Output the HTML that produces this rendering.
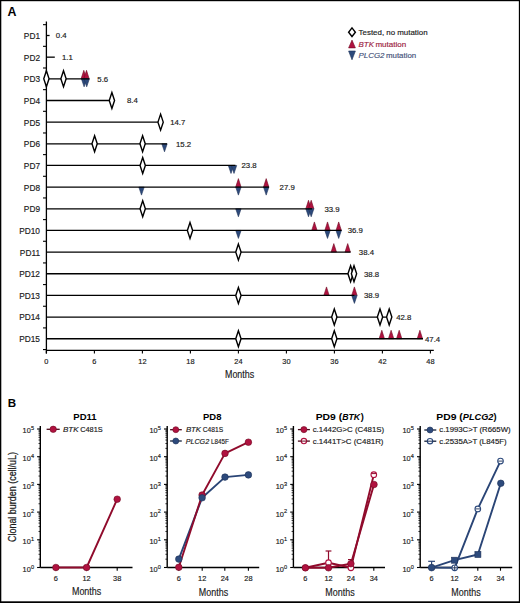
<!DOCTYPE html>
<html><head><meta charset="utf-8"><style>
html,body{margin:0;padding:0;background:#fff;}
body{width:520px;height:603px;overflow:hidden;}
svg{display:block;}
text{font-family:"Liberation Sans",sans-serif;}
</style></head><body>
<svg width="520" height="603" viewBox="0 0 520 603">
<rect width="520" height="603" fill="#fff"/>
<rect x="0" y="0" width="520" height="1.2" fill="#000"/>
<rect x="0" y="0" width="1.3" height="603" fill="#000"/>
<rect x="518.85" y="0" width="1.15" height="603" fill="#000"/>
<rect x="0" y="601.3" width="520" height="1.7" fill="#000"/>
<text x="7.50" y="15.70" font-size="12.4" text-anchor="start" fill="#000" font-weight="bold" >A</text>
<line x1="46.40" y1="21.50" x2="46.40" y2="353.50" stroke="#000" stroke-width="1.3"/>
<line x1="43.00" y1="24.67" x2="46.40" y2="24.67" stroke="#000" stroke-width="1.1"/>
<line x1="43.00" y1="46.33" x2="46.40" y2="46.33" stroke="#000" stroke-width="1.1"/>
<line x1="43.00" y1="67.99" x2="46.40" y2="67.99" stroke="#000" stroke-width="1.1"/>
<line x1="43.00" y1="89.65" x2="46.40" y2="89.65" stroke="#000" stroke-width="1.1"/>
<line x1="43.00" y1="111.31" x2="46.40" y2="111.31" stroke="#000" stroke-width="1.1"/>
<line x1="43.00" y1="132.97" x2="46.40" y2="132.97" stroke="#000" stroke-width="1.1"/>
<line x1="43.00" y1="154.63" x2="46.40" y2="154.63" stroke="#000" stroke-width="1.1"/>
<line x1="43.00" y1="176.29" x2="46.40" y2="176.29" stroke="#000" stroke-width="1.1"/>
<line x1="43.00" y1="197.95" x2="46.40" y2="197.95" stroke="#000" stroke-width="1.1"/>
<line x1="43.00" y1="219.61" x2="46.40" y2="219.61" stroke="#000" stroke-width="1.1"/>
<line x1="43.00" y1="241.27" x2="46.40" y2="241.27" stroke="#000" stroke-width="1.1"/>
<line x1="43.00" y1="262.93" x2="46.40" y2="262.93" stroke="#000" stroke-width="1.1"/>
<line x1="43.00" y1="284.59" x2="46.40" y2="284.59" stroke="#000" stroke-width="1.1"/>
<line x1="43.00" y1="306.25" x2="46.40" y2="306.25" stroke="#000" stroke-width="1.1"/>
<line x1="43.00" y1="327.91" x2="46.40" y2="327.91" stroke="#000" stroke-width="1.1"/>
<line x1="43.00" y1="349.57" x2="46.40" y2="349.57" stroke="#000" stroke-width="1.1"/>
<line x1="46.40" y1="350.40" x2="433.80" y2="350.40" stroke="#000" stroke-width="1.3"/>
<line x1="46.40" y1="350.40" x2="46.40" y2="353.60" stroke="#000" stroke-width="1.1"/>
<text x="46.40" y="363.90" font-size="7.4" text-anchor="middle" fill="#1a1a1a" stroke="#1a1a1a" stroke-width="0.16" >0</text>
<line x1="94.40" y1="350.40" x2="94.40" y2="353.60" stroke="#000" stroke-width="1.1"/>
<text x="94.40" y="363.90" font-size="7.4" text-anchor="middle" fill="#1a1a1a" stroke="#1a1a1a" stroke-width="0.16" >6</text>
<line x1="142.40" y1="350.40" x2="142.40" y2="353.60" stroke="#000" stroke-width="1.1"/>
<text x="142.40" y="363.90" font-size="7.4" text-anchor="middle" fill="#1a1a1a" stroke="#1a1a1a" stroke-width="0.16" >12</text>
<line x1="190.40" y1="350.40" x2="190.40" y2="353.60" stroke="#000" stroke-width="1.1"/>
<text x="190.40" y="363.90" font-size="7.4" text-anchor="middle" fill="#1a1a1a" stroke="#1a1a1a" stroke-width="0.16" >18</text>
<line x1="238.40" y1="350.40" x2="238.40" y2="353.60" stroke="#000" stroke-width="1.1"/>
<text x="238.40" y="363.90" font-size="7.4" text-anchor="middle" fill="#1a1a1a" stroke="#1a1a1a" stroke-width="0.16" >24</text>
<line x1="286.40" y1="350.40" x2="286.40" y2="353.60" stroke="#000" stroke-width="1.1"/>
<text x="286.40" y="363.90" font-size="7.4" text-anchor="middle" fill="#1a1a1a" stroke="#1a1a1a" stroke-width="0.16" >30</text>
<line x1="334.40" y1="350.40" x2="334.40" y2="353.60" stroke="#000" stroke-width="1.1"/>
<text x="334.40" y="363.90" font-size="7.4" text-anchor="middle" fill="#1a1a1a" stroke="#1a1a1a" stroke-width="0.16" >36</text>
<line x1="382.40" y1="350.40" x2="382.40" y2="353.60" stroke="#000" stroke-width="1.1"/>
<text x="382.40" y="363.90" font-size="7.4" text-anchor="middle" fill="#1a1a1a" stroke="#1a1a1a" stroke-width="0.16" >42</text>
<line x1="430.40" y1="350.40" x2="430.40" y2="353.60" stroke="#000" stroke-width="1.1"/>
<text x="430.40" y="363.90" font-size="7.4" text-anchor="middle" fill="#1a1a1a" stroke="#1a1a1a" stroke-width="0.16" >48</text>
<text x="239.60" y="377.90" font-size="10.6" text-anchor="middle" fill="#1a1a1a" textLength="29.20" lengthAdjust="spacingAndGlyphs" stroke="#1a1a1a" stroke-width="0.16" >Months</text>
<text x="40.00" y="38.90" font-size="8.3" text-anchor="end" fill="#1a1a1a" stroke="#1a1a1a" stroke-width="0.16" >PD1</text>
<text x="55.80" y="38.30" font-size="7.8" text-anchor="start" fill="#1a1a1a" stroke="#1a1a1a" stroke-width="0.16" >0.4</text>
<text x="40.00" y="60.56" font-size="8.3" text-anchor="end" fill="#1a1a1a" stroke="#1a1a1a" stroke-width="0.16" >PD2</text>
<text x="62.00" y="59.96" font-size="7.8" text-anchor="start" fill="#1a1a1a" stroke="#1a1a1a" stroke-width="0.16" >1.1</text>
<text x="40.00" y="82.22" font-size="8.3" text-anchor="end" fill="#1a1a1a" stroke="#1a1a1a" stroke-width="0.16" >PD3</text>
<text x="97.30" y="81.62" font-size="7.8" text-anchor="start" fill="#1a1a1a" stroke="#1a1a1a" stroke-width="0.16" >5.6</text>
<text x="40.00" y="103.88" font-size="8.3" text-anchor="end" fill="#1a1a1a" stroke="#1a1a1a" stroke-width="0.16" >PD4</text>
<text x="126.90" y="103.28" font-size="7.8" text-anchor="start" fill="#1a1a1a" stroke="#1a1a1a" stroke-width="0.16" >8.4</text>
<text x="40.00" y="125.54" font-size="8.3" text-anchor="end" fill="#1a1a1a" stroke="#1a1a1a" stroke-width="0.16" >PD5</text>
<text x="170.20" y="124.94" font-size="7.8" text-anchor="start" fill="#1a1a1a" stroke="#1a1a1a" stroke-width="0.16" >14.7</text>
<text x="40.00" y="147.20" font-size="8.3" text-anchor="end" fill="#1a1a1a" stroke="#1a1a1a" stroke-width="0.16" >PD6</text>
<text x="176.00" y="146.60" font-size="7.8" text-anchor="start" fill="#1a1a1a" stroke="#1a1a1a" stroke-width="0.16" >15.2</text>
<text x="40.00" y="168.86" font-size="8.3" text-anchor="end" fill="#1a1a1a" stroke="#1a1a1a" stroke-width="0.16" >PD7</text>
<text x="241.50" y="168.26" font-size="7.8" text-anchor="start" fill="#1a1a1a" stroke="#1a1a1a" stroke-width="0.16" >23.8</text>
<text x="40.00" y="190.52" font-size="8.3" text-anchor="end" fill="#1a1a1a" stroke="#1a1a1a" stroke-width="0.16" >PD8</text>
<text x="279.60" y="189.92" font-size="7.8" text-anchor="start" fill="#1a1a1a" stroke="#1a1a1a" stroke-width="0.16" >27.9</text>
<text x="40.00" y="212.18" font-size="8.3" text-anchor="end" fill="#1a1a1a" stroke="#1a1a1a" stroke-width="0.16" >PD9</text>
<text x="324.40" y="211.58" font-size="7.8" text-anchor="start" fill="#1a1a1a" stroke="#1a1a1a" stroke-width="0.16" >33.9</text>
<text x="40.00" y="233.84" font-size="8.3" text-anchor="end" fill="#1a1a1a" stroke="#1a1a1a" stroke-width="0.16" >PD10</text>
<text x="347.70" y="233.24" font-size="7.8" text-anchor="start" fill="#1a1a1a" stroke="#1a1a1a" stroke-width="0.16" >36.9</text>
<text x="40.00" y="255.50" font-size="8.3" text-anchor="end" fill="#1a1a1a" stroke="#1a1a1a" stroke-width="0.16" >PD11</text>
<text x="358.80" y="254.90" font-size="7.8" text-anchor="start" fill="#1a1a1a" stroke="#1a1a1a" stroke-width="0.16" >38.4</text>
<text x="40.00" y="277.16" font-size="8.3" text-anchor="end" fill="#1a1a1a" stroke="#1a1a1a" stroke-width="0.16" >PD12</text>
<text x="364.00" y="276.56" font-size="7.8" text-anchor="start" fill="#1a1a1a" stroke="#1a1a1a" stroke-width="0.16" >38.8</text>
<text x="40.00" y="298.82" font-size="8.3" text-anchor="end" fill="#1a1a1a" stroke="#1a1a1a" stroke-width="0.16" >PD13</text>
<text x="364.00" y="298.22" font-size="7.8" text-anchor="start" fill="#1a1a1a" stroke="#1a1a1a" stroke-width="0.16" >38.9</text>
<text x="40.00" y="320.48" font-size="8.3" text-anchor="end" fill="#1a1a1a" stroke="#1a1a1a" stroke-width="0.16" >PD14</text>
<text x="396.20" y="319.88" font-size="7.8" text-anchor="start" fill="#1a1a1a" stroke="#1a1a1a" stroke-width="0.16" >42.8</text>
<text x="40.00" y="342.14" font-size="8.3" text-anchor="end" fill="#1a1a1a" stroke="#1a1a1a" stroke-width="0.16" >PD15</text>
<text x="425.00" y="341.54" font-size="7.8" text-anchor="start" fill="#1a1a1a" stroke="#1a1a1a" stroke-width="0.16" >47.4</text>
<line x1="46.40" y1="35.50" x2="49.60" y2="35.50" stroke="#000" stroke-width="1.3"/>
<line x1="46.40" y1="57.16" x2="54.80" y2="57.16" stroke="#000" stroke-width="1.3"/>
<path d="M81.10 78.82L83.80 70.32L86.50 78.82Z" fill="#b01240" stroke="#6e0a22" stroke-width="0.6"/>
<path d="M83.80 78.82L86.50 70.32L89.20 78.82Z" fill="#b01240" stroke="#6e0a22" stroke-width="0.6"/>
<path d="M81.40 78.82L84.10 86.82L86.80 78.82Z" fill="#2d4a7c" stroke="#1d3158" stroke-width="0.6"/>
<path d="M84.00 78.82L86.70 86.82L89.40 78.82Z" fill="#2d4a7c" stroke="#1d3158" stroke-width="0.6"/>
<line x1="46.40" y1="78.82" x2="89.30" y2="78.82" stroke="#000" stroke-width="1.3"/>
<path d="M46.40 70.82L49.05 78.82L46.40 86.82L43.75 78.82Z" fill="#fff" stroke="#000" stroke-width="1.4" stroke-linejoin="miter" stroke-miterlimit="10"/>
<path d="M63.50 70.82L66.15 78.82L63.50 86.82L60.85 78.82Z" fill="#fff" stroke="#000" stroke-width="1.4" stroke-linejoin="miter" stroke-miterlimit="10"/>
<line x1="46.40" y1="100.48" x2="111.90" y2="100.48" stroke="#000" stroke-width="1.3"/>
<path d="M111.90 92.48L114.55 100.48L111.90 108.48L109.25 100.48Z" fill="#fff" stroke="#000" stroke-width="1.4" stroke-linejoin="miter" stroke-miterlimit="10"/>
<line x1="46.40" y1="122.14" x2="160.60" y2="122.14" stroke="#000" stroke-width="1.3"/>
<path d="M160.60 114.14L163.25 122.14L160.60 130.14L157.95 122.14Z" fill="#fff" stroke="#000" stroke-width="1.4" stroke-linejoin="miter" stroke-miterlimit="10"/>
<path d="M161.80 143.80L164.50 151.80L167.20 143.80Z" fill="#2d4a7c" stroke="#1d3158" stroke-width="0.6"/>
<line x1="46.40" y1="143.80" x2="167.00" y2="143.80" stroke="#000" stroke-width="1.3"/>
<path d="M94.60 135.80L97.25 143.80L94.60 151.80L91.95 143.80Z" fill="#fff" stroke="#000" stroke-width="1.4" stroke-linejoin="miter" stroke-miterlimit="10"/>
<path d="M142.60 135.80L145.25 143.80L142.60 151.80L139.95 143.80Z" fill="#fff" stroke="#000" stroke-width="1.4" stroke-linejoin="miter" stroke-miterlimit="10"/>
<path d="M228.30 165.46L231.00 173.46L233.70 165.46Z" fill="#2d4a7c" stroke="#1d3158" stroke-width="0.6"/>
<path d="M231.30 165.46L234.00 173.46L236.70 165.46Z" fill="#2d4a7c" stroke="#1d3158" stroke-width="0.6"/>
<line x1="46.40" y1="165.46" x2="235.40" y2="165.46" stroke="#000" stroke-width="1.3"/>
<path d="M142.70 157.46L145.35 165.46L142.70 173.46L140.05 165.46Z" fill="#fff" stroke="#000" stroke-width="1.4" stroke-linejoin="miter" stroke-miterlimit="10"/>
<path d="M235.70 187.12L238.40 178.62L241.10 187.12Z" fill="#b01240" stroke="#6e0a22" stroke-width="0.6"/>
<path d="M263.50 187.12L266.20 178.62L268.90 187.12Z" fill="#b01240" stroke="#6e0a22" stroke-width="0.6"/>
<path d="M138.80 187.12L141.50 195.12L144.20 187.12Z" fill="#2d4a7c" stroke="#1d3158" stroke-width="0.6"/>
<path d="M235.70 187.12L238.40 195.12L241.10 187.12Z" fill="#2d4a7c" stroke="#1d3158" stroke-width="0.6"/>
<path d="M263.50 187.12L266.20 195.12L268.90 187.12Z" fill="#2d4a7c" stroke="#1d3158" stroke-width="0.6"/>
<line x1="46.40" y1="187.12" x2="269.00" y2="187.12" stroke="#000" stroke-width="1.3"/>
<path d="M305.80 208.78L308.50 200.28L311.20 208.78Z" fill="#b01240" stroke="#6e0a22" stroke-width="0.6"/>
<path d="M308.50 208.78L311.20 200.28L313.90 208.78Z" fill="#b01240" stroke="#6e0a22" stroke-width="0.6"/>
<path d="M235.70 208.78L238.40 216.78L241.10 208.78Z" fill="#2d4a7c" stroke="#1d3158" stroke-width="0.6"/>
<path d="M305.80 208.78L308.50 216.78L311.20 208.78Z" fill="#2d4a7c" stroke="#1d3158" stroke-width="0.6"/>
<path d="M308.50 208.78L311.20 216.78L313.90 208.78Z" fill="#2d4a7c" stroke="#1d3158" stroke-width="0.6"/>
<line x1="46.40" y1="208.78" x2="312.00" y2="208.78" stroke="#000" stroke-width="1.3"/>
<path d="M142.70 200.78L145.35 208.78L142.70 216.78L140.05 208.78Z" fill="#fff" stroke="#000" stroke-width="1.4" stroke-linejoin="miter" stroke-miterlimit="10"/>
<path d="M311.70 230.44L314.40 221.94L317.10 230.44Z" fill="#b01240" stroke="#6e0a22" stroke-width="0.6"/>
<path d="M324.80 230.44L327.50 221.94L330.20 230.44Z" fill="#b01240" stroke="#6e0a22" stroke-width="0.6"/>
<path d="M336.00 230.44L338.70 221.94L341.40 230.44Z" fill="#b01240" stroke="#6e0a22" stroke-width="0.6"/>
<path d="M235.70 230.44L238.40 238.44L241.10 230.44Z" fill="#2d4a7c" stroke="#1d3158" stroke-width="0.6"/>
<path d="M324.80 230.44L327.50 238.44L330.20 230.44Z" fill="#2d4a7c" stroke="#1d3158" stroke-width="0.6"/>
<path d="M336.00 230.44L338.70 238.44L341.40 230.44Z" fill="#2d4a7c" stroke="#1d3158" stroke-width="0.6"/>
<line x1="46.40" y1="230.44" x2="341.50" y2="230.44" stroke="#000" stroke-width="1.3"/>
<path d="M190.00 222.44L192.65 230.44L190.00 238.44L187.35 230.44Z" fill="#fff" stroke="#000" stroke-width="1.4" stroke-linejoin="miter" stroke-miterlimit="10"/>
<path d="M331.10 252.10L333.80 243.60L336.50 252.10Z" fill="#b01240" stroke="#6e0a22" stroke-width="0.6"/>
<path d="M345.00 252.10L347.70 243.60L350.40 252.10Z" fill="#b01240" stroke="#6e0a22" stroke-width="0.6"/>
<line x1="46.40" y1="252.10" x2="350.60" y2="252.10" stroke="#000" stroke-width="1.3"/>
<path d="M238.40 244.10L241.05 252.10L238.40 260.10L235.75 252.10Z" fill="#fff" stroke="#000" stroke-width="1.4" stroke-linejoin="miter" stroke-miterlimit="10"/>
<line x1="46.40" y1="273.76" x2="354.00" y2="273.76" stroke="#000" stroke-width="1.3"/>
<path d="M350.60 265.76L353.25 273.76L350.60 281.76L347.95 273.76Z" fill="#fff" stroke="#000" stroke-width="1.4" stroke-linejoin="miter" stroke-miterlimit="10"/>
<path d="M354.00 265.76L356.65 273.76L354.00 281.76L351.35 273.76Z" fill="#fff" stroke="#000" stroke-width="1.4" stroke-linejoin="miter" stroke-miterlimit="10"/>
<path d="M323.80 295.42L326.50 286.92L329.20 295.42Z" fill="#b01240" stroke="#6e0a22" stroke-width="0.6"/>
<path d="M351.70 295.42L354.40 286.92L357.10 295.42Z" fill="#b01240" stroke="#6e0a22" stroke-width="0.6"/>
<path d="M351.70 295.42L354.40 303.42L357.10 295.42Z" fill="#2d4a7c" stroke="#1d3158" stroke-width="0.6"/>
<line x1="46.40" y1="295.42" x2="354.40" y2="295.42" stroke="#000" stroke-width="1.3"/>
<path d="M238.40 287.42L241.05 295.42L238.40 303.42L235.75 295.42Z" fill="#fff" stroke="#000" stroke-width="1.4" stroke-linejoin="miter" stroke-miterlimit="10"/>
<line x1="46.40" y1="317.08" x2="389.20" y2="317.08" stroke="#000" stroke-width="1.3"/>
<path d="M334.30 309.08L336.95 317.08L334.30 325.08L331.65 317.08Z" fill="#fff" stroke="#000" stroke-width="1.4" stroke-linejoin="miter" stroke-miterlimit="10"/>
<path d="M380.00 309.08L382.65 317.08L380.00 325.08L377.35 317.08Z" fill="#fff" stroke="#000" stroke-width="1.4" stroke-linejoin="miter" stroke-miterlimit="10"/>
<path d="M389.20 309.08L391.85 317.08L389.20 325.08L386.55 317.08Z" fill="#fff" stroke="#000" stroke-width="1.4" stroke-linejoin="miter" stroke-miterlimit="10"/>
<path d="M379.10 338.74L381.80 330.24L384.50 338.74Z" fill="#b01240" stroke="#6e0a22" stroke-width="0.6"/>
<path d="M388.40 338.74L391.10 330.24L393.80 338.74Z" fill="#b01240" stroke="#6e0a22" stroke-width="0.6"/>
<path d="M396.50 338.74L399.20 330.24L401.90 338.74Z" fill="#b01240" stroke="#6e0a22" stroke-width="0.6"/>
<path d="M417.20 338.74L419.90 330.24L422.60 338.74Z" fill="#b01240" stroke="#6e0a22" stroke-width="0.6"/>
<line x1="46.40" y1="338.74" x2="423.00" y2="338.74" stroke="#000" stroke-width="1.3"/>
<path d="M238.40 330.74L241.05 338.74L238.40 346.74L235.75 338.74Z" fill="#fff" stroke="#000" stroke-width="1.4" stroke-linejoin="miter" stroke-miterlimit="10"/>
<path d="M334.30 330.74L336.95 338.74L334.30 346.74L331.65 338.74Z" fill="#fff" stroke="#000" stroke-width="1.4" stroke-linejoin="miter" stroke-miterlimit="10"/>
<path d="M352.0 27.9L355.4 32.2L352.0 36.5L348.6 32.2Z" fill="#fff" stroke="#000" stroke-width="1.4"/>
<text x="358.60" y="35.20" font-size="8.0" text-anchor="start" fill="#1a1a1a" textLength="69.00" lengthAdjust="spacingAndGlyphs" stroke="#1a1a1a" stroke-width="0.16" >Tested, no mutation</text>
<path d="M348.6 47.9L352.0 40.1L355.4 47.9Z" fill="#b01240" stroke="#6e0a22" stroke-width="0.6"/>
<text x="358.60" y="46.90" font-size="8.0" text-anchor="start" fill="#9c1d3e" font-style="italic" textLength="15.30" lengthAdjust="spacingAndGlyphs" stroke="#9c1d3e" stroke-width="0.16" >BTK</text>
<text x="375.40" y="46.90" font-size="8.0" text-anchor="start" fill="#9c1d3e" textLength="30.80" lengthAdjust="spacingAndGlyphs" stroke="#9c1d3e" stroke-width="0.16" >mutation</text>
<path d="M348.6 51.0L352.0 59.8L355.4 51.0Z" fill="#2d4a7c" stroke="#1d3158" stroke-width="0.6"/>
<text x="358.60" y="57.90" font-size="8.0" text-anchor="start" fill="#44527a" font-style="italic" textLength="25.90" lengthAdjust="spacingAndGlyphs" stroke="#44527a" stroke-width="0.16" >PLCG2</text>
<text x="386.00" y="57.90" font-size="8.0" text-anchor="start" fill="#44527a" textLength="30.20" lengthAdjust="spacingAndGlyphs" stroke="#44527a" stroke-width="0.16" >mutation</text>
<text x="7.80" y="406.80" font-size="11.6" text-anchor="start" fill="#000" font-weight="bold" >B</text>
<line x1="40.30" y1="426.00" x2="40.30" y2="567.50" stroke="#000" stroke-width="1.4"/>
<line x1="37.10" y1="567.50" x2="40.30" y2="567.50" stroke="#000" stroke-width="1.1"/>
<text x="30.80" y="571.90" font-size="7.9" text-anchor="end" fill="#1a1a1a" textLength="8.20" lengthAdjust="spacingAndGlyphs" stroke="#1a1a1a" stroke-width="0.16" >10</text>
<text x="30.90" y="568.80" font-size="5.6" text-anchor="start" fill="#1a1a1a" stroke="#1a1a1a" stroke-width="0.16" >0</text>
<line x1="38.50" y1="559.16" x2="40.30" y2="559.16" stroke="#000" stroke-width="0.8"/>
<line x1="38.50" y1="554.28" x2="40.30" y2="554.28" stroke="#000" stroke-width="0.8"/>
<line x1="38.50" y1="550.82" x2="40.30" y2="550.82" stroke="#000" stroke-width="0.8"/>
<line x1="38.50" y1="548.14" x2="40.30" y2="548.14" stroke="#000" stroke-width="0.8"/>
<line x1="38.50" y1="545.95" x2="40.30" y2="545.95" stroke="#000" stroke-width="0.8"/>
<line x1="38.50" y1="544.09" x2="40.30" y2="544.09" stroke="#000" stroke-width="0.8"/>
<line x1="38.50" y1="542.48" x2="40.30" y2="542.48" stroke="#000" stroke-width="0.8"/>
<line x1="38.50" y1="541.07" x2="40.30" y2="541.07" stroke="#000" stroke-width="0.8"/>
<line x1="37.10" y1="539.80" x2="40.30" y2="539.80" stroke="#000" stroke-width="1.1"/>
<text x="30.80" y="544.20" font-size="7.9" text-anchor="end" fill="#1a1a1a" textLength="8.20" lengthAdjust="spacingAndGlyphs" stroke="#1a1a1a" stroke-width="0.16" >10</text>
<text x="30.90" y="541.10" font-size="5.6" text-anchor="start" fill="#1a1a1a" stroke="#1a1a1a" stroke-width="0.16" >1</text>
<line x1="38.50" y1="531.46" x2="40.30" y2="531.46" stroke="#000" stroke-width="0.8"/>
<line x1="38.50" y1="526.58" x2="40.30" y2="526.58" stroke="#000" stroke-width="0.8"/>
<line x1="38.50" y1="523.12" x2="40.30" y2="523.12" stroke="#000" stroke-width="0.8"/>
<line x1="38.50" y1="520.44" x2="40.30" y2="520.44" stroke="#000" stroke-width="0.8"/>
<line x1="38.50" y1="518.25" x2="40.30" y2="518.25" stroke="#000" stroke-width="0.8"/>
<line x1="38.50" y1="516.39" x2="40.30" y2="516.39" stroke="#000" stroke-width="0.8"/>
<line x1="38.50" y1="514.78" x2="40.30" y2="514.78" stroke="#000" stroke-width="0.8"/>
<line x1="38.50" y1="513.37" x2="40.30" y2="513.37" stroke="#000" stroke-width="0.8"/>
<line x1="37.10" y1="512.10" x2="40.30" y2="512.10" stroke="#000" stroke-width="1.1"/>
<text x="30.80" y="516.50" font-size="7.9" text-anchor="end" fill="#1a1a1a" textLength="8.20" lengthAdjust="spacingAndGlyphs" stroke="#1a1a1a" stroke-width="0.16" >10</text>
<text x="30.90" y="513.40" font-size="5.6" text-anchor="start" fill="#1a1a1a" stroke="#1a1a1a" stroke-width="0.16" >2</text>
<line x1="38.50" y1="503.76" x2="40.30" y2="503.76" stroke="#000" stroke-width="0.8"/>
<line x1="38.50" y1="498.88" x2="40.30" y2="498.88" stroke="#000" stroke-width="0.8"/>
<line x1="38.50" y1="495.42" x2="40.30" y2="495.42" stroke="#000" stroke-width="0.8"/>
<line x1="38.50" y1="492.74" x2="40.30" y2="492.74" stroke="#000" stroke-width="0.8"/>
<line x1="38.50" y1="490.55" x2="40.30" y2="490.55" stroke="#000" stroke-width="0.8"/>
<line x1="38.50" y1="488.69" x2="40.30" y2="488.69" stroke="#000" stroke-width="0.8"/>
<line x1="38.50" y1="487.08" x2="40.30" y2="487.08" stroke="#000" stroke-width="0.8"/>
<line x1="38.50" y1="485.67" x2="40.30" y2="485.67" stroke="#000" stroke-width="0.8"/>
<line x1="37.10" y1="484.40" x2="40.30" y2="484.40" stroke="#000" stroke-width="1.1"/>
<text x="30.80" y="488.80" font-size="7.9" text-anchor="end" fill="#1a1a1a" textLength="8.20" lengthAdjust="spacingAndGlyphs" stroke="#1a1a1a" stroke-width="0.16" >10</text>
<text x="30.90" y="485.70" font-size="5.6" text-anchor="start" fill="#1a1a1a" stroke="#1a1a1a" stroke-width="0.16" >3</text>
<line x1="38.50" y1="476.06" x2="40.30" y2="476.06" stroke="#000" stroke-width="0.8"/>
<line x1="38.50" y1="471.18" x2="40.30" y2="471.18" stroke="#000" stroke-width="0.8"/>
<line x1="38.50" y1="467.72" x2="40.30" y2="467.72" stroke="#000" stroke-width="0.8"/>
<line x1="38.50" y1="465.04" x2="40.30" y2="465.04" stroke="#000" stroke-width="0.8"/>
<line x1="38.50" y1="462.85" x2="40.30" y2="462.85" stroke="#000" stroke-width="0.8"/>
<line x1="38.50" y1="460.99" x2="40.30" y2="460.99" stroke="#000" stroke-width="0.8"/>
<line x1="38.50" y1="459.38" x2="40.30" y2="459.38" stroke="#000" stroke-width="0.8"/>
<line x1="38.50" y1="457.97" x2="40.30" y2="457.97" stroke="#000" stroke-width="0.8"/>
<line x1="37.10" y1="456.70" x2="40.30" y2="456.70" stroke="#000" stroke-width="1.1"/>
<text x="30.80" y="461.10" font-size="7.9" text-anchor="end" fill="#1a1a1a" textLength="8.20" lengthAdjust="spacingAndGlyphs" stroke="#1a1a1a" stroke-width="0.16" >10</text>
<text x="30.90" y="458.00" font-size="5.6" text-anchor="start" fill="#1a1a1a" stroke="#1a1a1a" stroke-width="0.16" >4</text>
<line x1="38.50" y1="448.36" x2="40.30" y2="448.36" stroke="#000" stroke-width="0.8"/>
<line x1="38.50" y1="443.48" x2="40.30" y2="443.48" stroke="#000" stroke-width="0.8"/>
<line x1="38.50" y1="440.02" x2="40.30" y2="440.02" stroke="#000" stroke-width="0.8"/>
<line x1="38.50" y1="437.34" x2="40.30" y2="437.34" stroke="#000" stroke-width="0.8"/>
<line x1="38.50" y1="435.15" x2="40.30" y2="435.15" stroke="#000" stroke-width="0.8"/>
<line x1="38.50" y1="433.29" x2="40.30" y2="433.29" stroke="#000" stroke-width="0.8"/>
<line x1="38.50" y1="431.68" x2="40.30" y2="431.68" stroke="#000" stroke-width="0.8"/>
<line x1="38.50" y1="430.27" x2="40.30" y2="430.27" stroke="#000" stroke-width="0.8"/>
<line x1="37.10" y1="429.00" x2="40.30" y2="429.00" stroke="#000" stroke-width="1.1"/>
<text x="30.80" y="433.40" font-size="7.9" text-anchor="end" fill="#1a1a1a" textLength="8.20" lengthAdjust="spacingAndGlyphs" stroke="#1a1a1a" stroke-width="0.16" >10</text>
<text x="30.90" y="430.30" font-size="5.6" text-anchor="start" fill="#1a1a1a" stroke="#1a1a1a" stroke-width="0.16" >5</text>
<line x1="40.30" y1="567.50" x2="132.50" y2="567.50" stroke="#000" stroke-width="1.4"/>
<line x1="55.90" y1="567.50" x2="55.90" y2="570.70" stroke="#000" stroke-width="1.1"/>
<text x="55.90" y="580.90" font-size="7.4" text-anchor="middle" fill="#1a1a1a" stroke="#1a1a1a" stroke-width="0.16" >6</text>
<line x1="86.60" y1="567.50" x2="86.60" y2="570.70" stroke="#000" stroke-width="1.1"/>
<text x="86.60" y="580.90" font-size="7.4" text-anchor="middle" fill="#1a1a1a" stroke="#1a1a1a" stroke-width="0.16" >12</text>
<line x1="117.20" y1="567.50" x2="117.20" y2="570.70" stroke="#000" stroke-width="1.1"/>
<text x="117.20" y="580.90" font-size="7.4" text-anchor="middle" fill="#1a1a1a" stroke="#1a1a1a" stroke-width="0.16" >38</text>
<text x="86.60" y="595.40" font-size="10.4" text-anchor="middle" fill="#1a1a1a" textLength="29.30" lengthAdjust="spacingAndGlyphs" stroke="#1a1a1a" stroke-width="0.16" >Months</text>
<text x="85.00" y="419.50" font-size="9.2" text-anchor="middle" fill="#000" font-weight="bold" textLength="23.30" lengthAdjust="spacingAndGlyphs" >PD11</text>
<line x1="46.60" y1="429.30" x2="59.70" y2="429.30" stroke="#4a0a1a" stroke-width="1.3"/>
<circle cx="53.20" cy="429.30" r="3.20" fill="#b01240" stroke="#6e0a22" stroke-width="0.6"/>
<text x="62.90" y="431.90" font-size="7.5" text-anchor="start" fill="#1a1a1a" font-style="italic" textLength="15.60" lengthAdjust="spacingAndGlyphs" stroke="#1a1a1a" stroke-width="0.16" >BTK</text>
<text x="80.20" y="431.90" font-size="7.5" text-anchor="start" fill="#1a1a1a" textLength="22.50" lengthAdjust="spacingAndGlyphs" stroke="#1a1a1a" stroke-width="0.16" >C481S</text>
<path d="M55.90 567.50L86.60 567.50L117.20 499.20" fill="none" stroke="#900b2c" stroke-width="1.9" stroke-linejoin="round"/>
<circle cx="55.90" cy="567.50" r="3.30" fill="#b01240" stroke="#6e0a22" stroke-width="0.6"/>
<circle cx="86.60" cy="567.50" r="3.30" fill="#b01240" stroke="#6e0a22" stroke-width="0.6"/>
<circle cx="117.20" cy="499.20" r="3.30" fill="#b01240" stroke="#6e0a22" stroke-width="0.6"/>
<text transform="translate(15.6,542) rotate(-90)" font-size="10.8" fill="#1a1a1a" stroke="#1a1a1a" stroke-width="0.25" textLength="90" lengthAdjust="spacingAndGlyphs">Clonal burden (cell/uL)</text>
<line x1="167.20" y1="426.00" x2="167.20" y2="567.50" stroke="#000" stroke-width="1.4"/>
<line x1="164.00" y1="567.50" x2="167.20" y2="567.50" stroke="#000" stroke-width="1.1"/>
<text x="157.70" y="571.90" font-size="7.9" text-anchor="end" fill="#1a1a1a" textLength="8.20" lengthAdjust="spacingAndGlyphs" stroke="#1a1a1a" stroke-width="0.16" >10</text>
<text x="157.80" y="568.80" font-size="5.6" text-anchor="start" fill="#1a1a1a" stroke="#1a1a1a" stroke-width="0.16" >0</text>
<line x1="165.40" y1="559.16" x2="167.20" y2="559.16" stroke="#000" stroke-width="0.8"/>
<line x1="165.40" y1="554.28" x2="167.20" y2="554.28" stroke="#000" stroke-width="0.8"/>
<line x1="165.40" y1="550.82" x2="167.20" y2="550.82" stroke="#000" stroke-width="0.8"/>
<line x1="165.40" y1="548.14" x2="167.20" y2="548.14" stroke="#000" stroke-width="0.8"/>
<line x1="165.40" y1="545.95" x2="167.20" y2="545.95" stroke="#000" stroke-width="0.8"/>
<line x1="165.40" y1="544.09" x2="167.20" y2="544.09" stroke="#000" stroke-width="0.8"/>
<line x1="165.40" y1="542.48" x2="167.20" y2="542.48" stroke="#000" stroke-width="0.8"/>
<line x1="165.40" y1="541.07" x2="167.20" y2="541.07" stroke="#000" stroke-width="0.8"/>
<line x1="164.00" y1="539.80" x2="167.20" y2="539.80" stroke="#000" stroke-width="1.1"/>
<text x="157.70" y="544.20" font-size="7.9" text-anchor="end" fill="#1a1a1a" textLength="8.20" lengthAdjust="spacingAndGlyphs" stroke="#1a1a1a" stroke-width="0.16" >10</text>
<text x="157.80" y="541.10" font-size="5.6" text-anchor="start" fill="#1a1a1a" stroke="#1a1a1a" stroke-width="0.16" >1</text>
<line x1="165.40" y1="531.46" x2="167.20" y2="531.46" stroke="#000" stroke-width="0.8"/>
<line x1="165.40" y1="526.58" x2="167.20" y2="526.58" stroke="#000" stroke-width="0.8"/>
<line x1="165.40" y1="523.12" x2="167.20" y2="523.12" stroke="#000" stroke-width="0.8"/>
<line x1="165.40" y1="520.44" x2="167.20" y2="520.44" stroke="#000" stroke-width="0.8"/>
<line x1="165.40" y1="518.25" x2="167.20" y2="518.25" stroke="#000" stroke-width="0.8"/>
<line x1="165.40" y1="516.39" x2="167.20" y2="516.39" stroke="#000" stroke-width="0.8"/>
<line x1="165.40" y1="514.78" x2="167.20" y2="514.78" stroke="#000" stroke-width="0.8"/>
<line x1="165.40" y1="513.37" x2="167.20" y2="513.37" stroke="#000" stroke-width="0.8"/>
<line x1="164.00" y1="512.10" x2="167.20" y2="512.10" stroke="#000" stroke-width="1.1"/>
<text x="157.70" y="516.50" font-size="7.9" text-anchor="end" fill="#1a1a1a" textLength="8.20" lengthAdjust="spacingAndGlyphs" stroke="#1a1a1a" stroke-width="0.16" >10</text>
<text x="157.80" y="513.40" font-size="5.6" text-anchor="start" fill="#1a1a1a" stroke="#1a1a1a" stroke-width="0.16" >2</text>
<line x1="165.40" y1="503.76" x2="167.20" y2="503.76" stroke="#000" stroke-width="0.8"/>
<line x1="165.40" y1="498.88" x2="167.20" y2="498.88" stroke="#000" stroke-width="0.8"/>
<line x1="165.40" y1="495.42" x2="167.20" y2="495.42" stroke="#000" stroke-width="0.8"/>
<line x1="165.40" y1="492.74" x2="167.20" y2="492.74" stroke="#000" stroke-width="0.8"/>
<line x1="165.40" y1="490.55" x2="167.20" y2="490.55" stroke="#000" stroke-width="0.8"/>
<line x1="165.40" y1="488.69" x2="167.20" y2="488.69" stroke="#000" stroke-width="0.8"/>
<line x1="165.40" y1="487.08" x2="167.20" y2="487.08" stroke="#000" stroke-width="0.8"/>
<line x1="165.40" y1="485.67" x2="167.20" y2="485.67" stroke="#000" stroke-width="0.8"/>
<line x1="164.00" y1="484.40" x2="167.20" y2="484.40" stroke="#000" stroke-width="1.1"/>
<text x="157.70" y="488.80" font-size="7.9" text-anchor="end" fill="#1a1a1a" textLength="8.20" lengthAdjust="spacingAndGlyphs" stroke="#1a1a1a" stroke-width="0.16" >10</text>
<text x="157.80" y="485.70" font-size="5.6" text-anchor="start" fill="#1a1a1a" stroke="#1a1a1a" stroke-width="0.16" >3</text>
<line x1="165.40" y1="476.06" x2="167.20" y2="476.06" stroke="#000" stroke-width="0.8"/>
<line x1="165.40" y1="471.18" x2="167.20" y2="471.18" stroke="#000" stroke-width="0.8"/>
<line x1="165.40" y1="467.72" x2="167.20" y2="467.72" stroke="#000" stroke-width="0.8"/>
<line x1="165.40" y1="465.04" x2="167.20" y2="465.04" stroke="#000" stroke-width="0.8"/>
<line x1="165.40" y1="462.85" x2="167.20" y2="462.85" stroke="#000" stroke-width="0.8"/>
<line x1="165.40" y1="460.99" x2="167.20" y2="460.99" stroke="#000" stroke-width="0.8"/>
<line x1="165.40" y1="459.38" x2="167.20" y2="459.38" stroke="#000" stroke-width="0.8"/>
<line x1="165.40" y1="457.97" x2="167.20" y2="457.97" stroke="#000" stroke-width="0.8"/>
<line x1="164.00" y1="456.70" x2="167.20" y2="456.70" stroke="#000" stroke-width="1.1"/>
<text x="157.70" y="461.10" font-size="7.9" text-anchor="end" fill="#1a1a1a" textLength="8.20" lengthAdjust="spacingAndGlyphs" stroke="#1a1a1a" stroke-width="0.16" >10</text>
<text x="157.80" y="458.00" font-size="5.6" text-anchor="start" fill="#1a1a1a" stroke="#1a1a1a" stroke-width="0.16" >4</text>
<line x1="165.40" y1="448.36" x2="167.20" y2="448.36" stroke="#000" stroke-width="0.8"/>
<line x1="165.40" y1="443.48" x2="167.20" y2="443.48" stroke="#000" stroke-width="0.8"/>
<line x1="165.40" y1="440.02" x2="167.20" y2="440.02" stroke="#000" stroke-width="0.8"/>
<line x1="165.40" y1="437.34" x2="167.20" y2="437.34" stroke="#000" stroke-width="0.8"/>
<line x1="165.40" y1="435.15" x2="167.20" y2="435.15" stroke="#000" stroke-width="0.8"/>
<line x1="165.40" y1="433.29" x2="167.20" y2="433.29" stroke="#000" stroke-width="0.8"/>
<line x1="165.40" y1="431.68" x2="167.20" y2="431.68" stroke="#000" stroke-width="0.8"/>
<line x1="165.40" y1="430.27" x2="167.20" y2="430.27" stroke="#000" stroke-width="0.8"/>
<line x1="164.00" y1="429.00" x2="167.20" y2="429.00" stroke="#000" stroke-width="1.1"/>
<text x="157.70" y="433.40" font-size="7.9" text-anchor="end" fill="#1a1a1a" textLength="8.20" lengthAdjust="spacingAndGlyphs" stroke="#1a1a1a" stroke-width="0.16" >10</text>
<text x="157.80" y="430.30" font-size="5.6" text-anchor="start" fill="#1a1a1a" stroke="#1a1a1a" stroke-width="0.16" >5</text>
<line x1="167.20" y1="567.50" x2="259.20" y2="567.50" stroke="#000" stroke-width="1.4"/>
<line x1="178.80" y1="567.50" x2="178.80" y2="570.70" stroke="#000" stroke-width="1.1"/>
<text x="178.80" y="580.90" font-size="7.4" text-anchor="middle" fill="#1a1a1a" stroke="#1a1a1a" stroke-width="0.16" >6</text>
<line x1="202.20" y1="567.50" x2="202.20" y2="570.70" stroke="#000" stroke-width="1.1"/>
<text x="202.20" y="580.90" font-size="7.4" text-anchor="middle" fill="#1a1a1a" stroke="#1a1a1a" stroke-width="0.16" >12</text>
<line x1="224.80" y1="567.50" x2="224.80" y2="570.70" stroke="#000" stroke-width="1.1"/>
<text x="224.80" y="580.90" font-size="7.4" text-anchor="middle" fill="#1a1a1a" stroke="#1a1a1a" stroke-width="0.16" >24</text>
<line x1="248.40" y1="567.50" x2="248.40" y2="570.70" stroke="#000" stroke-width="1.1"/>
<text x="248.40" y="580.90" font-size="7.4" text-anchor="middle" fill="#1a1a1a" stroke="#1a1a1a" stroke-width="0.16" >28</text>
<text x="213.50" y="595.80" font-size="10.4" text-anchor="middle" fill="#1a1a1a" textLength="29.30" lengthAdjust="spacingAndGlyphs" stroke="#1a1a1a" stroke-width="0.16" >Months</text>
<text x="212.20" y="419.50" font-size="9.2" text-anchor="middle" fill="#000" font-weight="bold" textLength="18.40" lengthAdjust="spacingAndGlyphs" >PD8</text>
<line x1="170.10" y1="429.70" x2="181.80" y2="429.70" stroke="#4a0a1a" stroke-width="1.3"/>
<circle cx="175.80" cy="429.70" r="3.00" fill="#b01240" stroke="#6e0a22" stroke-width="0.6"/>
<text x="185.90" y="432.40" font-size="7.5" text-anchor="start" fill="#1a1a1a" font-style="italic" textLength="15.20" lengthAdjust="spacingAndGlyphs" stroke="#1a1a1a" stroke-width="0.16" >BTK</text>
<text x="202.70" y="432.40" font-size="7.5" text-anchor="start" fill="#1a1a1a" textLength="20.40" lengthAdjust="spacingAndGlyphs" stroke="#1a1a1a" stroke-width="0.16" >C481S</text>
<line x1="170.10" y1="441.00" x2="181.80" y2="441.00" stroke="#141f38" stroke-width="1.3"/>
<circle cx="175.80" cy="441.00" r="3.00" fill="#2d4a7c" stroke="#1d3158" stroke-width="0.6"/>
<text x="185.70" y="443.70" font-size="7.5" text-anchor="start" fill="#1a1a1a" font-style="italic" textLength="23.50" lengthAdjust="spacingAndGlyphs" stroke="#1a1a1a" stroke-width="0.16" >PLCG2</text>
<text x="211.00" y="443.70" font-size="7.5" text-anchor="start" fill="#1a1a1a" textLength="17.80" lengthAdjust="spacingAndGlyphs" stroke="#1a1a1a" stroke-width="0.16" >L845F</text>
<path d="M178.80 559.10L202.10 497.80L225.00 477.10L248.40 474.90" fill="none" stroke="#2a4576" stroke-width="1.9" stroke-linejoin="round"/>
<path d="M178.80 567.30L202.10 495.00L225.00 453.40L248.40 442.20" fill="none" stroke="#900b2c" stroke-width="1.9" stroke-linejoin="round"/>
<circle cx="178.80" cy="567.30" r="3.30" fill="#b01240" stroke="#6e0a22" stroke-width="0.6"/>
<circle cx="202.10" cy="495.00" r="3.30" fill="#b01240" stroke="#6e0a22" stroke-width="0.6"/>
<circle cx="225.00" cy="453.40" r="3.30" fill="#b01240" stroke="#6e0a22" stroke-width="0.6"/>
<circle cx="248.40" cy="442.20" r="3.30" fill="#b01240" stroke="#6e0a22" stroke-width="0.6"/>
<circle cx="178.80" cy="559.10" r="3.30" fill="#2d4a7c" stroke="#1d3158" stroke-width="0.6"/>
<circle cx="202.10" cy="497.80" r="3.30" fill="#2d4a7c" stroke="#1d3158" stroke-width="0.6"/>
<circle cx="225.00" cy="477.10" r="3.30" fill="#2d4a7c" stroke="#1d3158" stroke-width="0.6"/>
<circle cx="248.40" cy="474.90" r="3.30" fill="#2d4a7c" stroke="#1d3158" stroke-width="0.6"/>
<line x1="293.40" y1="426.00" x2="293.40" y2="567.50" stroke="#000" stroke-width="1.4"/>
<line x1="290.20" y1="567.50" x2="293.40" y2="567.50" stroke="#000" stroke-width="1.1"/>
<text x="283.90" y="571.90" font-size="7.9" text-anchor="end" fill="#1a1a1a" textLength="8.20" lengthAdjust="spacingAndGlyphs" stroke="#1a1a1a" stroke-width="0.16" >10</text>
<text x="284.00" y="568.80" font-size="5.6" text-anchor="start" fill="#1a1a1a" stroke="#1a1a1a" stroke-width="0.16" >0</text>
<line x1="291.60" y1="559.16" x2="293.40" y2="559.16" stroke="#000" stroke-width="0.8"/>
<line x1="291.60" y1="554.28" x2="293.40" y2="554.28" stroke="#000" stroke-width="0.8"/>
<line x1="291.60" y1="550.82" x2="293.40" y2="550.82" stroke="#000" stroke-width="0.8"/>
<line x1="291.60" y1="548.14" x2="293.40" y2="548.14" stroke="#000" stroke-width="0.8"/>
<line x1="291.60" y1="545.95" x2="293.40" y2="545.95" stroke="#000" stroke-width="0.8"/>
<line x1="291.60" y1="544.09" x2="293.40" y2="544.09" stroke="#000" stroke-width="0.8"/>
<line x1="291.60" y1="542.48" x2="293.40" y2="542.48" stroke="#000" stroke-width="0.8"/>
<line x1="291.60" y1="541.07" x2="293.40" y2="541.07" stroke="#000" stroke-width="0.8"/>
<line x1="290.20" y1="539.80" x2="293.40" y2="539.80" stroke="#000" stroke-width="1.1"/>
<text x="283.90" y="544.20" font-size="7.9" text-anchor="end" fill="#1a1a1a" textLength="8.20" lengthAdjust="spacingAndGlyphs" stroke="#1a1a1a" stroke-width="0.16" >10</text>
<text x="284.00" y="541.10" font-size="5.6" text-anchor="start" fill="#1a1a1a" stroke="#1a1a1a" stroke-width="0.16" >1</text>
<line x1="291.60" y1="531.46" x2="293.40" y2="531.46" stroke="#000" stroke-width="0.8"/>
<line x1="291.60" y1="526.58" x2="293.40" y2="526.58" stroke="#000" stroke-width="0.8"/>
<line x1="291.60" y1="523.12" x2="293.40" y2="523.12" stroke="#000" stroke-width="0.8"/>
<line x1="291.60" y1="520.44" x2="293.40" y2="520.44" stroke="#000" stroke-width="0.8"/>
<line x1="291.60" y1="518.25" x2="293.40" y2="518.25" stroke="#000" stroke-width="0.8"/>
<line x1="291.60" y1="516.39" x2="293.40" y2="516.39" stroke="#000" stroke-width="0.8"/>
<line x1="291.60" y1="514.78" x2="293.40" y2="514.78" stroke="#000" stroke-width="0.8"/>
<line x1="291.60" y1="513.37" x2="293.40" y2="513.37" stroke="#000" stroke-width="0.8"/>
<line x1="290.20" y1="512.10" x2="293.40" y2="512.10" stroke="#000" stroke-width="1.1"/>
<text x="283.90" y="516.50" font-size="7.9" text-anchor="end" fill="#1a1a1a" textLength="8.20" lengthAdjust="spacingAndGlyphs" stroke="#1a1a1a" stroke-width="0.16" >10</text>
<text x="284.00" y="513.40" font-size="5.6" text-anchor="start" fill="#1a1a1a" stroke="#1a1a1a" stroke-width="0.16" >2</text>
<line x1="291.60" y1="503.76" x2="293.40" y2="503.76" stroke="#000" stroke-width="0.8"/>
<line x1="291.60" y1="498.88" x2="293.40" y2="498.88" stroke="#000" stroke-width="0.8"/>
<line x1="291.60" y1="495.42" x2="293.40" y2="495.42" stroke="#000" stroke-width="0.8"/>
<line x1="291.60" y1="492.74" x2="293.40" y2="492.74" stroke="#000" stroke-width="0.8"/>
<line x1="291.60" y1="490.55" x2="293.40" y2="490.55" stroke="#000" stroke-width="0.8"/>
<line x1="291.60" y1="488.69" x2="293.40" y2="488.69" stroke="#000" stroke-width="0.8"/>
<line x1="291.60" y1="487.08" x2="293.40" y2="487.08" stroke="#000" stroke-width="0.8"/>
<line x1="291.60" y1="485.67" x2="293.40" y2="485.67" stroke="#000" stroke-width="0.8"/>
<line x1="290.20" y1="484.40" x2="293.40" y2="484.40" stroke="#000" stroke-width="1.1"/>
<text x="283.90" y="488.80" font-size="7.9" text-anchor="end" fill="#1a1a1a" textLength="8.20" lengthAdjust="spacingAndGlyphs" stroke="#1a1a1a" stroke-width="0.16" >10</text>
<text x="284.00" y="485.70" font-size="5.6" text-anchor="start" fill="#1a1a1a" stroke="#1a1a1a" stroke-width="0.16" >3</text>
<line x1="291.60" y1="476.06" x2="293.40" y2="476.06" stroke="#000" stroke-width="0.8"/>
<line x1="291.60" y1="471.18" x2="293.40" y2="471.18" stroke="#000" stroke-width="0.8"/>
<line x1="291.60" y1="467.72" x2="293.40" y2="467.72" stroke="#000" stroke-width="0.8"/>
<line x1="291.60" y1="465.04" x2="293.40" y2="465.04" stroke="#000" stroke-width="0.8"/>
<line x1="291.60" y1="462.85" x2="293.40" y2="462.85" stroke="#000" stroke-width="0.8"/>
<line x1="291.60" y1="460.99" x2="293.40" y2="460.99" stroke="#000" stroke-width="0.8"/>
<line x1="291.60" y1="459.38" x2="293.40" y2="459.38" stroke="#000" stroke-width="0.8"/>
<line x1="291.60" y1="457.97" x2="293.40" y2="457.97" stroke="#000" stroke-width="0.8"/>
<line x1="290.20" y1="456.70" x2="293.40" y2="456.70" stroke="#000" stroke-width="1.1"/>
<text x="283.90" y="461.10" font-size="7.9" text-anchor="end" fill="#1a1a1a" textLength="8.20" lengthAdjust="spacingAndGlyphs" stroke="#1a1a1a" stroke-width="0.16" >10</text>
<text x="284.00" y="458.00" font-size="5.6" text-anchor="start" fill="#1a1a1a" stroke="#1a1a1a" stroke-width="0.16" >4</text>
<line x1="291.60" y1="448.36" x2="293.40" y2="448.36" stroke="#000" stroke-width="0.8"/>
<line x1="291.60" y1="443.48" x2="293.40" y2="443.48" stroke="#000" stroke-width="0.8"/>
<line x1="291.60" y1="440.02" x2="293.40" y2="440.02" stroke="#000" stroke-width="0.8"/>
<line x1="291.60" y1="437.34" x2="293.40" y2="437.34" stroke="#000" stroke-width="0.8"/>
<line x1="291.60" y1="435.15" x2="293.40" y2="435.15" stroke="#000" stroke-width="0.8"/>
<line x1="291.60" y1="433.29" x2="293.40" y2="433.29" stroke="#000" stroke-width="0.8"/>
<line x1="291.60" y1="431.68" x2="293.40" y2="431.68" stroke="#000" stroke-width="0.8"/>
<line x1="291.60" y1="430.27" x2="293.40" y2="430.27" stroke="#000" stroke-width="0.8"/>
<line x1="290.20" y1="429.00" x2="293.40" y2="429.00" stroke="#000" stroke-width="1.1"/>
<text x="283.90" y="433.40" font-size="7.9" text-anchor="end" fill="#1a1a1a" textLength="8.20" lengthAdjust="spacingAndGlyphs" stroke="#1a1a1a" stroke-width="0.16" >10</text>
<text x="284.00" y="430.30" font-size="5.6" text-anchor="start" fill="#1a1a1a" stroke="#1a1a1a" stroke-width="0.16" >5</text>
<line x1="293.40" y1="567.50" x2="385.00" y2="567.50" stroke="#000" stroke-width="1.4"/>
<line x1="305.40" y1="567.50" x2="305.40" y2="570.70" stroke="#000" stroke-width="1.1"/>
<text x="305.40" y="580.90" font-size="7.4" text-anchor="middle" fill="#1a1a1a" stroke="#1a1a1a" stroke-width="0.16" >6</text>
<line x1="328.50" y1="567.50" x2="328.50" y2="570.70" stroke="#000" stroke-width="1.1"/>
<text x="328.50" y="580.90" font-size="7.4" text-anchor="middle" fill="#1a1a1a" stroke="#1a1a1a" stroke-width="0.16" >12</text>
<line x1="350.90" y1="567.50" x2="350.90" y2="570.70" stroke="#000" stroke-width="1.1"/>
<text x="350.90" y="580.90" font-size="7.4" text-anchor="middle" fill="#1a1a1a" stroke="#1a1a1a" stroke-width="0.16" >24</text>
<line x1="373.80" y1="567.50" x2="373.80" y2="570.70" stroke="#000" stroke-width="1.1"/>
<text x="373.80" y="580.90" font-size="7.4" text-anchor="middle" fill="#1a1a1a" stroke="#1a1a1a" stroke-width="0.16" >34</text>
<text x="340.00" y="595.80" font-size="10.4" text-anchor="middle" fill="#1a1a1a" textLength="29.30" lengthAdjust="spacingAndGlyphs" stroke="#1a1a1a" stroke-width="0.16" >Months</text>
<text x="315.70" y="419.60" font-size="9.2" text-anchor="start" fill="#000" font-weight="bold" textLength="26.50" lengthAdjust="spacingAndGlyphs" >PD9 (</text>
<text x="342.20" y="419.60" font-size="9.2" text-anchor="start" fill="#000" font-weight="bold" font-style="italic" textLength="18.00" lengthAdjust="spacingAndGlyphs" >BTK</text>
<text x="360.80" y="419.60" font-size="9.2" text-anchor="start" fill="#000" font-weight="bold" >)</text>
<line x1="297.90" y1="429.60" x2="309.90" y2="429.60" stroke="#4a0a1a" stroke-width="1.3"/>
<circle cx="303.90" cy="429.60" r="3.10" fill="#b01240" stroke="#6e0a22" stroke-width="0.6"/>
<line x1="297.90" y1="441.10" x2="309.90" y2="441.10" stroke="#4a0a1a" stroke-width="1.3"/>
<circle cx="303.90" cy="441.10" r="2.70" fill="#fff" stroke="#b01240" stroke-width="1.1"/>
<line x1="301.00" y1="441.10" x2="306.80" y2="441.10" stroke="#6e0a22" stroke-width="1.0"/>
<text x="312.70" y="431.90" font-size="7.5" text-anchor="start" fill="#1a1a1a" textLength="71.50" lengthAdjust="spacingAndGlyphs" stroke="#1a1a1a" stroke-width="0.16" >c.1442G&gt;C (C481S)</text>
<text x="312.70" y="443.50" font-size="7.5" text-anchor="start" fill="#1a1a1a" textLength="70.80" lengthAdjust="spacingAndGlyphs" stroke="#1a1a1a" stroke-width="0.16" >c.1441T&gt;C (C481R)</text>
<line x1="328.50" y1="562.70" x2="328.50" y2="551.00" stroke="#900b2c" stroke-width="1.2"/>
<line x1="325.60" y1="551.00" x2="331.40" y2="551.00" stroke="#900b2c" stroke-width="1.2"/>
<line x1="350.90" y1="567.80" x2="350.90" y2="559.60" stroke="#900b2c" stroke-width="1.2"/>
<line x1="348.00" y1="559.60" x2="353.80" y2="559.60" stroke="#900b2c" stroke-width="1.2"/>
<path d="M305.40 567.80L328.50 562.70L350.90 567.80L373.80 474.70" fill="none" stroke="#900b2c" stroke-width="1.9" stroke-linejoin="round"/>
<path d="M305.40 567.80L328.50 567.80L350.90 563.70L374.00 484.50" fill="none" stroke="#900b2c" stroke-width="1.9" stroke-linejoin="round"/>
<circle cx="305.40" cy="567.80" r="2.80" fill="#fff" stroke="#b01240" stroke-width="1.1"/>
<circle cx="328.50" cy="562.70" r="2.80" fill="#fff" stroke="#b01240" stroke-width="1.1"/>
<circle cx="350.90" cy="567.80" r="2.80" fill="#fff" stroke="#b01240" stroke-width="1.1"/>
<circle cx="373.80" cy="474.70" r="2.80" fill="#fff" stroke="#b01240" stroke-width="1.1"/>
<circle cx="305.40" cy="567.80" r="3.30" fill="#b01240" stroke="#6e0a22" stroke-width="0.6"/>
<circle cx="328.50" cy="567.80" r="3.30" fill="#b01240" stroke="#6e0a22" stroke-width="0.6"/>
<circle cx="350.90" cy="563.70" r="3.30" fill="#b01240" stroke="#6e0a22" stroke-width="0.6"/>
<circle cx="374.00" cy="484.50" r="3.30" fill="#b01240" stroke="#6e0a22" stroke-width="0.6"/>
<line x1="371.50" y1="473.60" x2="376.10" y2="473.60" stroke="#900b2c" stroke-width="1.0"/>
<line x1="420.20" y1="426.00" x2="420.20" y2="567.50" stroke="#000" stroke-width="1.4"/>
<line x1="417.00" y1="567.50" x2="420.20" y2="567.50" stroke="#000" stroke-width="1.1"/>
<text x="410.70" y="571.90" font-size="7.9" text-anchor="end" fill="#1a1a1a" textLength="8.20" lengthAdjust="spacingAndGlyphs" stroke="#1a1a1a" stroke-width="0.16" >10</text>
<text x="410.80" y="568.80" font-size="5.6" text-anchor="start" fill="#1a1a1a" stroke="#1a1a1a" stroke-width="0.16" >0</text>
<line x1="418.40" y1="559.16" x2="420.20" y2="559.16" stroke="#000" stroke-width="0.8"/>
<line x1="418.40" y1="554.28" x2="420.20" y2="554.28" stroke="#000" stroke-width="0.8"/>
<line x1="418.40" y1="550.82" x2="420.20" y2="550.82" stroke="#000" stroke-width="0.8"/>
<line x1="418.40" y1="548.14" x2="420.20" y2="548.14" stroke="#000" stroke-width="0.8"/>
<line x1="418.40" y1="545.95" x2="420.20" y2="545.95" stroke="#000" stroke-width="0.8"/>
<line x1="418.40" y1="544.09" x2="420.20" y2="544.09" stroke="#000" stroke-width="0.8"/>
<line x1="418.40" y1="542.48" x2="420.20" y2="542.48" stroke="#000" stroke-width="0.8"/>
<line x1="418.40" y1="541.07" x2="420.20" y2="541.07" stroke="#000" stroke-width="0.8"/>
<line x1="417.00" y1="539.80" x2="420.20" y2="539.80" stroke="#000" stroke-width="1.1"/>
<text x="410.70" y="544.20" font-size="7.9" text-anchor="end" fill="#1a1a1a" textLength="8.20" lengthAdjust="spacingAndGlyphs" stroke="#1a1a1a" stroke-width="0.16" >10</text>
<text x="410.80" y="541.10" font-size="5.6" text-anchor="start" fill="#1a1a1a" stroke="#1a1a1a" stroke-width="0.16" >1</text>
<line x1="418.40" y1="531.46" x2="420.20" y2="531.46" stroke="#000" stroke-width="0.8"/>
<line x1="418.40" y1="526.58" x2="420.20" y2="526.58" stroke="#000" stroke-width="0.8"/>
<line x1="418.40" y1="523.12" x2="420.20" y2="523.12" stroke="#000" stroke-width="0.8"/>
<line x1="418.40" y1="520.44" x2="420.20" y2="520.44" stroke="#000" stroke-width="0.8"/>
<line x1="418.40" y1="518.25" x2="420.20" y2="518.25" stroke="#000" stroke-width="0.8"/>
<line x1="418.40" y1="516.39" x2="420.20" y2="516.39" stroke="#000" stroke-width="0.8"/>
<line x1="418.40" y1="514.78" x2="420.20" y2="514.78" stroke="#000" stroke-width="0.8"/>
<line x1="418.40" y1="513.37" x2="420.20" y2="513.37" stroke="#000" stroke-width="0.8"/>
<line x1="417.00" y1="512.10" x2="420.20" y2="512.10" stroke="#000" stroke-width="1.1"/>
<text x="410.70" y="516.50" font-size="7.9" text-anchor="end" fill="#1a1a1a" textLength="8.20" lengthAdjust="spacingAndGlyphs" stroke="#1a1a1a" stroke-width="0.16" >10</text>
<text x="410.80" y="513.40" font-size="5.6" text-anchor="start" fill="#1a1a1a" stroke="#1a1a1a" stroke-width="0.16" >2</text>
<line x1="418.40" y1="503.76" x2="420.20" y2="503.76" stroke="#000" stroke-width="0.8"/>
<line x1="418.40" y1="498.88" x2="420.20" y2="498.88" stroke="#000" stroke-width="0.8"/>
<line x1="418.40" y1="495.42" x2="420.20" y2="495.42" stroke="#000" stroke-width="0.8"/>
<line x1="418.40" y1="492.74" x2="420.20" y2="492.74" stroke="#000" stroke-width="0.8"/>
<line x1="418.40" y1="490.55" x2="420.20" y2="490.55" stroke="#000" stroke-width="0.8"/>
<line x1="418.40" y1="488.69" x2="420.20" y2="488.69" stroke="#000" stroke-width="0.8"/>
<line x1="418.40" y1="487.08" x2="420.20" y2="487.08" stroke="#000" stroke-width="0.8"/>
<line x1="418.40" y1="485.67" x2="420.20" y2="485.67" stroke="#000" stroke-width="0.8"/>
<line x1="417.00" y1="484.40" x2="420.20" y2="484.40" stroke="#000" stroke-width="1.1"/>
<text x="410.70" y="488.80" font-size="7.9" text-anchor="end" fill="#1a1a1a" textLength="8.20" lengthAdjust="spacingAndGlyphs" stroke="#1a1a1a" stroke-width="0.16" >10</text>
<text x="410.80" y="485.70" font-size="5.6" text-anchor="start" fill="#1a1a1a" stroke="#1a1a1a" stroke-width="0.16" >3</text>
<line x1="418.40" y1="476.06" x2="420.20" y2="476.06" stroke="#000" stroke-width="0.8"/>
<line x1="418.40" y1="471.18" x2="420.20" y2="471.18" stroke="#000" stroke-width="0.8"/>
<line x1="418.40" y1="467.72" x2="420.20" y2="467.72" stroke="#000" stroke-width="0.8"/>
<line x1="418.40" y1="465.04" x2="420.20" y2="465.04" stroke="#000" stroke-width="0.8"/>
<line x1="418.40" y1="462.85" x2="420.20" y2="462.85" stroke="#000" stroke-width="0.8"/>
<line x1="418.40" y1="460.99" x2="420.20" y2="460.99" stroke="#000" stroke-width="0.8"/>
<line x1="418.40" y1="459.38" x2="420.20" y2="459.38" stroke="#000" stroke-width="0.8"/>
<line x1="418.40" y1="457.97" x2="420.20" y2="457.97" stroke="#000" stroke-width="0.8"/>
<line x1="417.00" y1="456.70" x2="420.20" y2="456.70" stroke="#000" stroke-width="1.1"/>
<text x="410.70" y="461.10" font-size="7.9" text-anchor="end" fill="#1a1a1a" textLength="8.20" lengthAdjust="spacingAndGlyphs" stroke="#1a1a1a" stroke-width="0.16" >10</text>
<text x="410.80" y="458.00" font-size="5.6" text-anchor="start" fill="#1a1a1a" stroke="#1a1a1a" stroke-width="0.16" >4</text>
<line x1="418.40" y1="448.36" x2="420.20" y2="448.36" stroke="#000" stroke-width="0.8"/>
<line x1="418.40" y1="443.48" x2="420.20" y2="443.48" stroke="#000" stroke-width="0.8"/>
<line x1="418.40" y1="440.02" x2="420.20" y2="440.02" stroke="#000" stroke-width="0.8"/>
<line x1="418.40" y1="437.34" x2="420.20" y2="437.34" stroke="#000" stroke-width="0.8"/>
<line x1="418.40" y1="435.15" x2="420.20" y2="435.15" stroke="#000" stroke-width="0.8"/>
<line x1="418.40" y1="433.29" x2="420.20" y2="433.29" stroke="#000" stroke-width="0.8"/>
<line x1="418.40" y1="431.68" x2="420.20" y2="431.68" stroke="#000" stroke-width="0.8"/>
<line x1="418.40" y1="430.27" x2="420.20" y2="430.27" stroke="#000" stroke-width="0.8"/>
<line x1="417.00" y1="429.00" x2="420.20" y2="429.00" stroke="#000" stroke-width="1.1"/>
<text x="410.70" y="433.40" font-size="7.9" text-anchor="end" fill="#1a1a1a" textLength="8.20" lengthAdjust="spacingAndGlyphs" stroke="#1a1a1a" stroke-width="0.16" >10</text>
<text x="410.80" y="430.30" font-size="5.6" text-anchor="start" fill="#1a1a1a" stroke="#1a1a1a" stroke-width="0.16" >5</text>
<line x1="420.20" y1="567.50" x2="512.20" y2="567.50" stroke="#000" stroke-width="1.4"/>
<line x1="431.60" y1="567.50" x2="431.60" y2="570.70" stroke="#000" stroke-width="1.1"/>
<text x="431.60" y="580.90" font-size="7.4" text-anchor="middle" fill="#1a1a1a" stroke="#1a1a1a" stroke-width="0.16" >6</text>
<line x1="454.60" y1="567.50" x2="454.60" y2="570.70" stroke="#000" stroke-width="1.1"/>
<text x="454.60" y="580.90" font-size="7.4" text-anchor="middle" fill="#1a1a1a" stroke="#1a1a1a" stroke-width="0.16" >12</text>
<line x1="477.80" y1="567.50" x2="477.80" y2="570.70" stroke="#000" stroke-width="1.1"/>
<text x="477.80" y="580.90" font-size="7.4" text-anchor="middle" fill="#1a1a1a" stroke="#1a1a1a" stroke-width="0.16" >24</text>
<line x1="500.50" y1="567.50" x2="500.50" y2="570.70" stroke="#000" stroke-width="1.1"/>
<text x="500.50" y="580.90" font-size="7.4" text-anchor="middle" fill="#1a1a1a" stroke="#1a1a1a" stroke-width="0.16" >34</text>
<text x="466.00" y="595.80" font-size="10.4" text-anchor="middle" fill="#1a1a1a" textLength="29.30" lengthAdjust="spacingAndGlyphs" stroke="#1a1a1a" stroke-width="0.16" >Months</text>
<text x="436.30" y="419.60" font-size="9.2" text-anchor="start" fill="#000" font-weight="bold" textLength="26.50" lengthAdjust="spacingAndGlyphs" >PD9 (</text>
<text x="462.80" y="419.60" font-size="9.2" text-anchor="start" fill="#000" font-weight="bold" font-style="italic" textLength="30.60" lengthAdjust="spacingAndGlyphs" >PLCG2</text>
<text x="493.60" y="419.60" font-size="9.2" text-anchor="start" fill="#000" font-weight="bold" >)</text>
<line x1="424.30" y1="430.00" x2="436.30" y2="430.00" stroke="#141f38" stroke-width="1.3"/>
<circle cx="430.00" cy="430.00" r="3.00" fill="#2d4a7c" stroke="#1d3158" stroke-width="0.6"/>
<line x1="424.30" y1="441.20" x2="436.30" y2="441.20" stroke="#141f38" stroke-width="1.3"/>
<circle cx="430.00" cy="441.20" r="2.70" fill="#fff" stroke="#2d4a7c" stroke-width="1.1"/>
<line x1="427.10" y1="441.20" x2="432.90" y2="441.20" stroke="#1d3158" stroke-width="1.0"/>
<text x="439.30" y="432.30" font-size="7.5" text-anchor="start" fill="#1a1a1a" textLength="71.30" lengthAdjust="spacingAndGlyphs" stroke="#1a1a1a" stroke-width="0.16" >c.1993C&gt;T (R665W)</text>
<text x="439.30" y="443.90" font-size="7.5" text-anchor="start" fill="#1a1a1a" textLength="67.30" lengthAdjust="spacingAndGlyphs" stroke="#1a1a1a" stroke-width="0.16" >c.2535A&gt;T (L845F)</text>
<line x1="431.60" y1="567.60" x2="431.60" y2="561.30" stroke="#2a4576" stroke-width="1.2"/>
<line x1="428.20" y1="561.30" x2="435.00" y2="561.30" stroke="#2a4576" stroke-width="1.2"/>
<path d="M431.60 567.60L454.70 567.80L477.80 508.90L500.50 461.10" fill="none" stroke="#2a4576" stroke-width="1.9" stroke-linejoin="round"/>
<path d="M431.60 567.60L454.50 560.20L477.90 554.50L500.80 483.30" fill="none" stroke="#2a4576" stroke-width="1.9" stroke-linejoin="round"/>
<circle cx="431.60" cy="567.60" r="3.40" fill="#2d4a7c" stroke="#1d3158" stroke-width="0.6"/>
<rect x="451.5" y="557.2" width="6" height="6" fill="#2d4a7c" stroke="#1d3158" stroke-width="0.6"/>
<rect x="474.9" y="551.5" width="6" height="6" fill="#2d4a7c" stroke="#1d3158" stroke-width="0.6"/>
<circle cx="500.80" cy="483.30" r="3.30" fill="#2d4a7c" stroke="#1d3158" stroke-width="0.6"/>
<circle cx="454.70" cy="567.80" r="2.80" fill="#fff" stroke="#2d4a7c" stroke-width="1.1"/>
<line x1="452.40" y1="567.80" x2="457.00" y2="567.80" stroke="#1d3158" stroke-width="0.9"/>
<circle cx="477.80" cy="508.90" r="2.80" fill="#fff" stroke="#2d4a7c" stroke-width="1.1"/>
<line x1="475.50" y1="508.90" x2="480.10" y2="508.90" stroke="#1d3158" stroke-width="0.9"/>
<circle cx="500.50" cy="461.10" r="2.80" fill="#fff" stroke="#2d4a7c" stroke-width="1.1"/>
<line x1="498.20" y1="461.10" x2="502.80" y2="461.10" stroke="#1d3158" stroke-width="0.9"/>
<line x1="454.70" y1="565.50" x2="454.70" y2="570.10" stroke="#1d3158" stroke-width="0.9"/>
</svg>
</body></html>
